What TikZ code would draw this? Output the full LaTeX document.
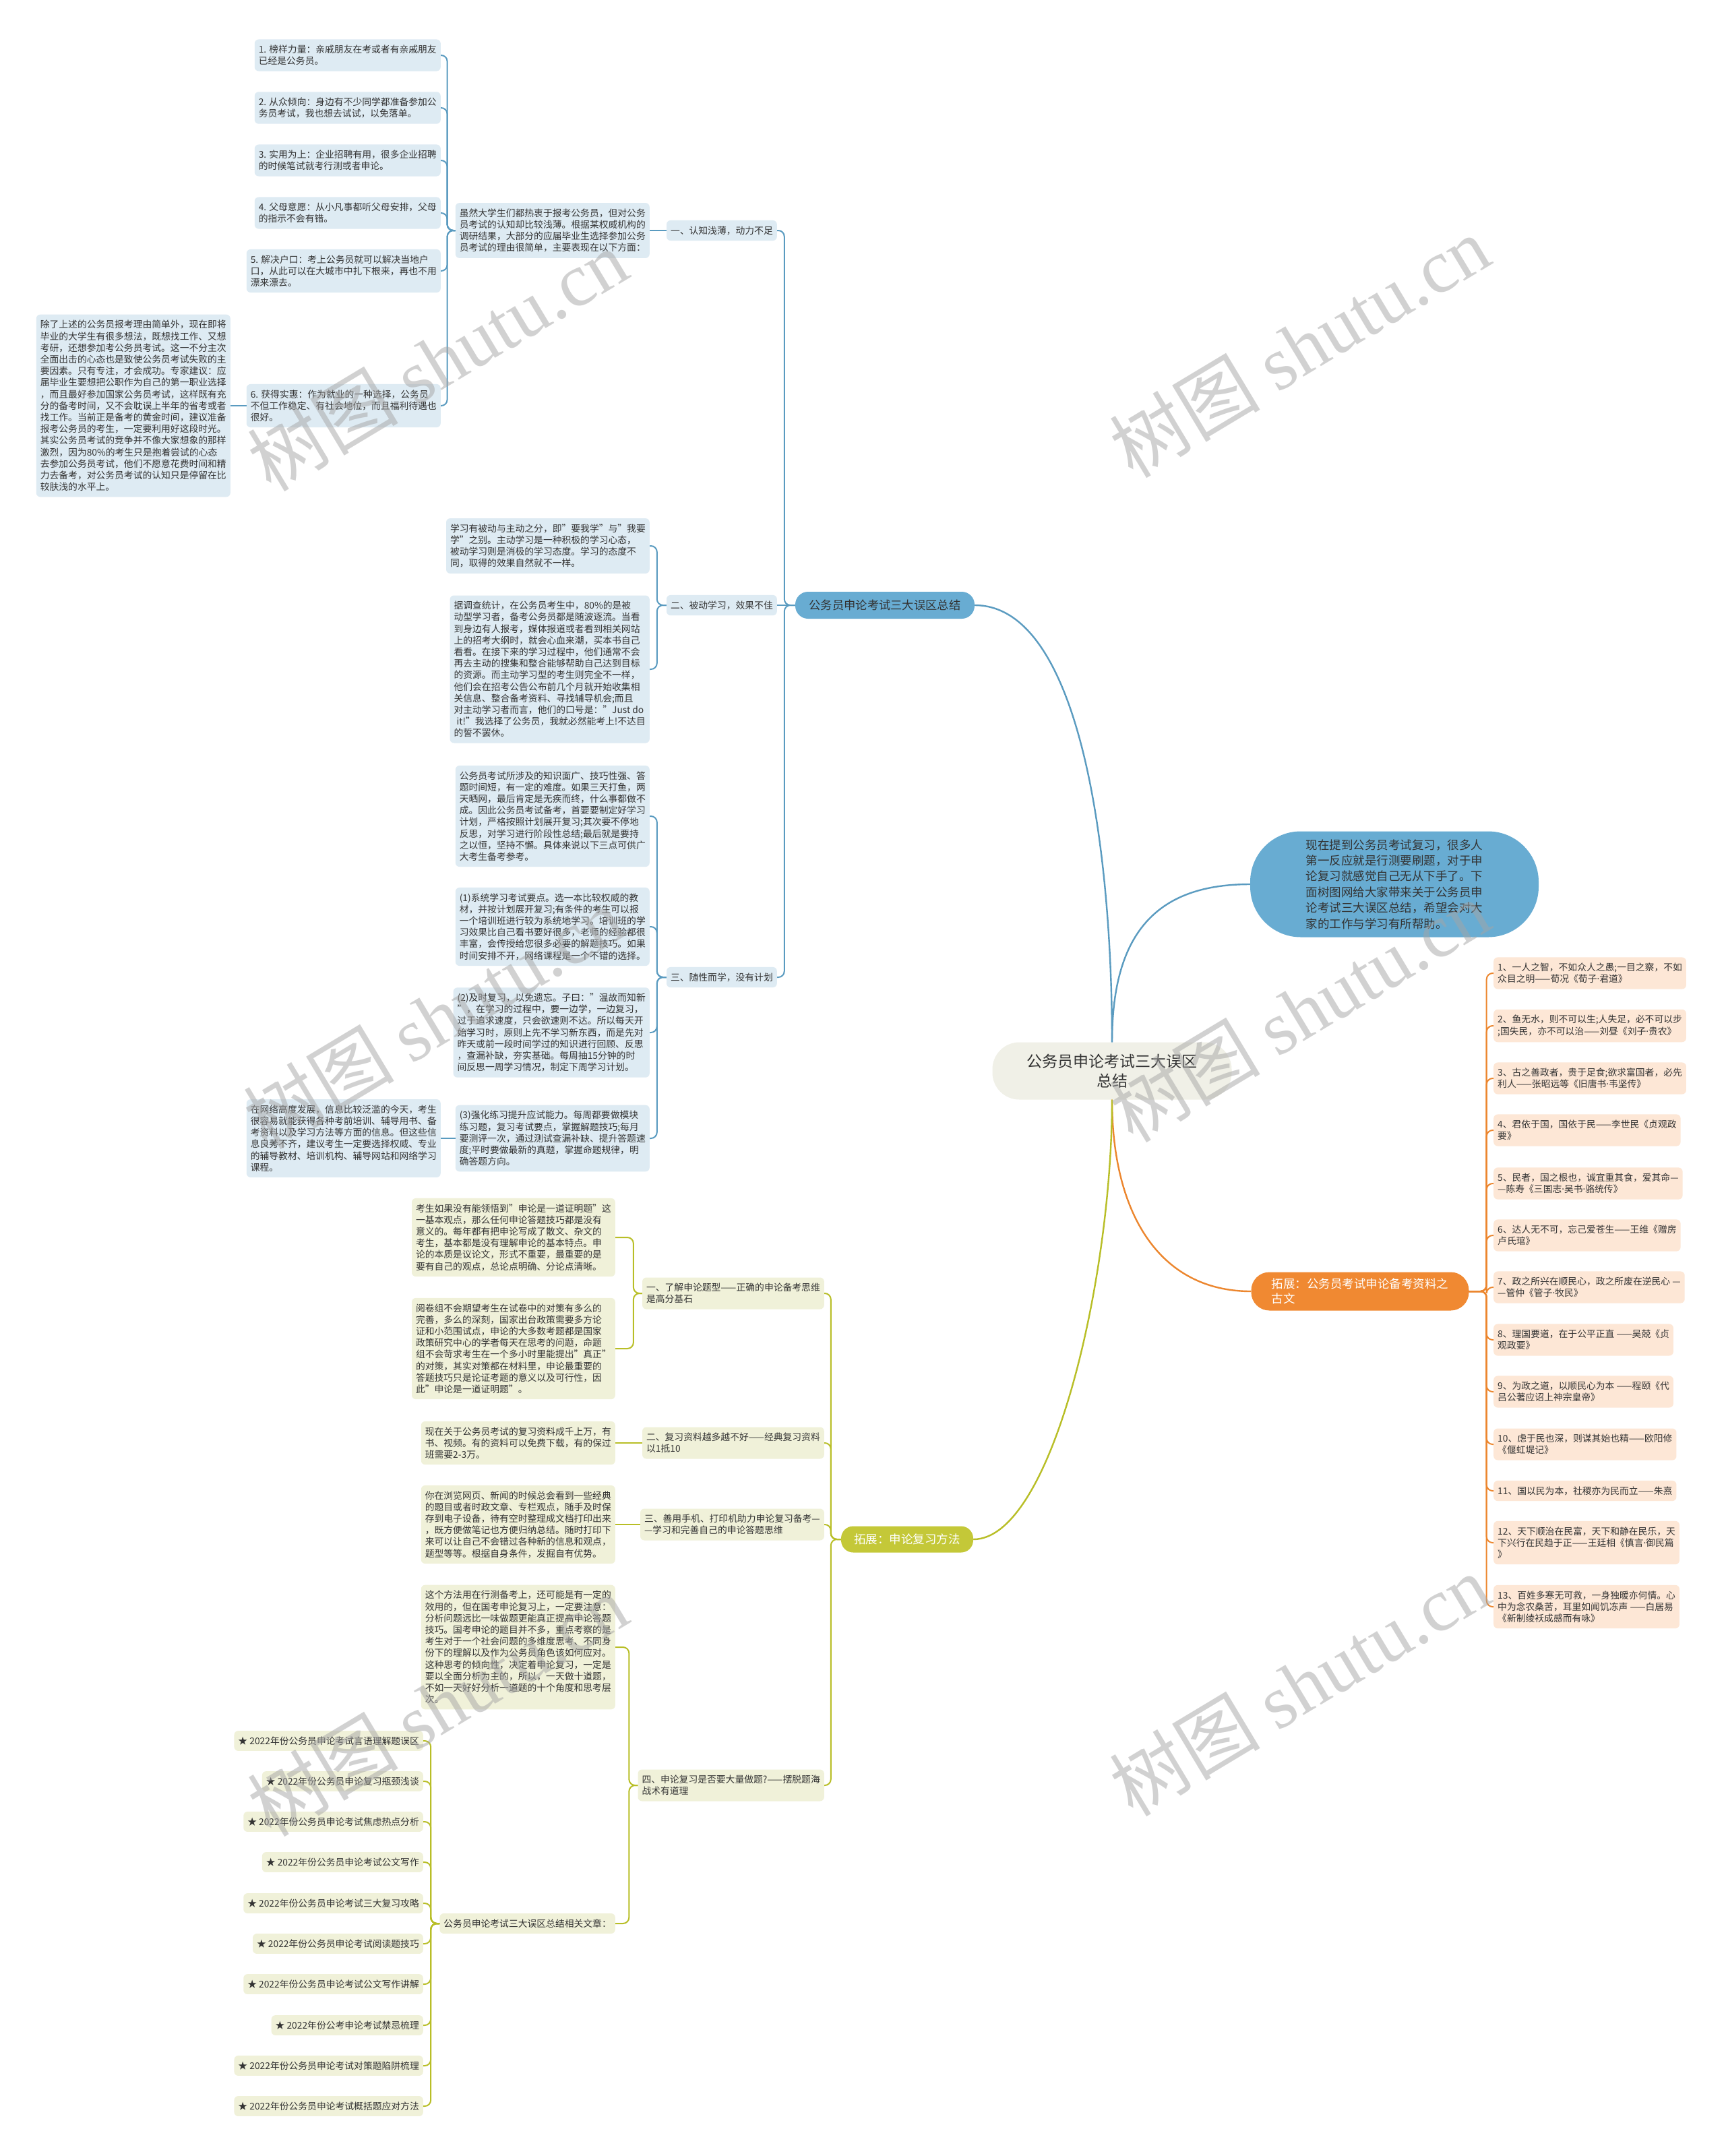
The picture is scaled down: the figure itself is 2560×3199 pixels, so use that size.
\documentclass[tikz,border=0pt]{standalone}
\usepackage{fontspec}
\setmainfont{Noto Sans CJK SC}
\newfontfamily\wmlatin{Liberation Serif}
\newfontfamily\latinf{Noto Sans}
\newcommand\ndot{{\latinf ·}}
\definecolor{txt}{RGB}{51,51,51}
\definecolor{blueline}{RGB}{90,155,192}
\definecolor{bluemain}{RGB}{104,172,210}
\definecolor{bluel}{RGB}{222,235,243}
\definecolor{orgline}{RGB}{236,134,46}
\definecolor{orgmain}{RGB}{240,137,50}
\definecolor{orgl}{RGB}{253,231,214}
\definecolor{olvline}{RGB}{184,190,38}
\definecolor{olvmain}{RGB}{196,200,56}
\definecolor{olvl}{RGB}{240,241,217}
\definecolor{ctr}{RGB}{240,240,231}
\definecolor{wm}{RGB}{165,165,165}
\tikzset{
  leaf/.style={rounded corners=6pt, align=left, font=\fontsize{13.8pt}{17.2pt}\selectfont, text=txt, inner xsep=6pt, inner ysep=8.5pt},
  bleaf/.style={leaf, fill=bluel},
  oleaf/.style={leaf, fill=orgl},
  gleaf/.style={leaf, fill=olvl},
  conn/.style={line width=2pt, rounded corners=9pt},
  bcon/.style={conn, draw=blueline},
  ocon/.style={conn, draw=orgline},
  gcon/.style={conn, draw=olvline},
  mainline/.style={line width=2.4pt},
  wmark/.style={rotate=31, text=wm, opacity=0.5, font=\fontsize{112pt}{112pt}\selectfont},
}
\begin{document}
\begin{tikzpicture}[x=1pt,y=-1pt]
\useasboundingbox[fill=white] (0,0) rectangle (2560,3199);

% ---------- centre ----------
\node[fill=ctr, rounded corners=40pt, minimum width=355pt, minimum height=85pt, align=center, font=\fontsize{23pt}{29pt}\selectfont, text=txt] (C) at (1650,1589) {公务员申论考试三大误区\\总结};

% ---------- blue branch ----------
\node[fill=bluemain, rounded corners=19pt, minimum width=266pt, minimum height=40pt, font=\fontsize{17.3pt}{20pt}\selectfont, text=txt] (B) at (1313,898) {公务员申论考试三大误区总结};

\node[bleaf, anchor=east] (B1) at (1153,342) {一、认知浅薄，动力不足};
\node[bleaf, anchor=east] (B2) at (1153,898) {二、被动学习，效果不佳};
\node[bleaf, anchor=east] (B3) at (1153,1450) {三、随性而学，没有计划};

\node[bleaf, anchor=east] (B1a) at (964,342) {虽然大学生们都热衷于报考公务员，但对公务\\员考试的认知却比较浅薄。根据某权威机构的\\调研结果，大部分的应届毕业生选择参加公务\\员考试的理由很简单，主要表现在以下方面：};

\node[bleaf, anchor=east] (L1) at (654,82) {1. 榜样力量：亲戚朋友在考或者有亲戚朋友\\已经是公务员。};
\node[bleaf, anchor=east] (L2) at (654,160) {2. 从众倾向：身边有不少同学都准备参加公\\务员考试，我也想去试试，以免落单。};
\node[bleaf, anchor=east] (L3) at (654,238) {3. 实用为上：企业招聘有用，很多企业招聘\\的时候笔试就考行测或者申论。};
\node[bleaf, anchor=east] (L4) at (654,316) {4. 父母意愿：从小凡事都听父母安排，父母\\的指示不会有错。};
\node[bleaf, anchor=east] (L5) at (654,402) {5. 解决户口：考上公务员就可以解决当地户\\口，从此可以在大城市中扎下根来，再也不用\\漂来漂去。};
\node[bleaf, anchor=east] (L6) at (654,602) {6. 获得实惠：作为就业的一种选择，公务员\\不但工作稳定、有社会地位，而且福利待遇也\\很好。};

\node[bleaf, anchor=east] (LL) at (342,602) {除了上述的公务员报考理由简单外，现在即将\\毕业的大学生有很多想法，既想找工作、又想\\考研，还想参加考公务员考试。这一不分主次\\全面出击的心态也是致使公务员考试失败的主\\要因素。只有专注，才会成功。专家建议：应\\届毕业生要想把公职作为自己的第一职业选择\\，而且最好参加国家公务员考试，这样既有充\\分的备考时间，又不会耽误上半年的省考或者\\找工作。当前正是备考的黄金时间，建议准备\\报考公务员的考生，一定要利用好这段时光。\\其实公务员考试的竞争并不像大家想象的那样\\激烈，因为80\%的考生只是抱着尝试的心态\\去参加公务员考试，他们不愿意花费时间和精\\力去备考，对公务员考试的认知只是停留在比\\较肤浅的水平上。};

\node[bleaf, anchor=east] (B2a) at (964,810) {学习有被动与主动之分，即"要我学"与"我要\\学"之别。主动学习是一种积极的学习心态，\\被动学习则是消极的学习态度。学习的态度不\\同，取得的效果自然就不一样。};
\node[bleaf, anchor=east] (B2b) at (964,993) {据调查统计，在公务员考生中，80\%的是被\\动型学习者，备考公务员都是随波逐流。当看\\到身边有人报考，媒体报道或者看到相关网站\\上的招考大纲时，就会心血来潮，买本书自己\\看看。在接下来的学习过程中，他们通常不会\\再去主动的搜集和整合能够帮助自己达到目标\\的资源。而主动学习型的考生则完全不一样，\\他们会在招考公告公布前几个月就开始收集相\\关信息、整合备考资料、寻找辅导机会;而且\\对主动学习者而言，他们的口号是："Just do\\\hspace{0.3em}it!"我选择了公务员，我就必然能考上!不达目\\的誓不罢休。};

\node[bleaf, anchor=east] (B3a) at (964,1211) {公务员考试所涉及的知识面广、技巧性强、答\\题时间短，有一定的难度。如果三天打鱼，两\\天晒网，最后肯定是无疾而终，什么事都做不\\成。因此公务员考试备考，首要要制定好学习\\计划，严格按照计划展开复习;其次要不停地\\反思，对学习进行阶段性总结;最后就是要持\\之以恒，坚持不懈。具体来说以下三点可供广\\大考生备考参考。};
\node[bleaf, anchor=east] (B3b) at (964,1375) {(1)系统学习考试要点。选一本比较权威的教\\材，并按计划展开复习;有条件的考生可以报\\一个培训班进行较为系统地学习。培训班的学\\习效果比自己看书要好很多，老师的经验都很\\丰富，会传授给您很多必要的解题技巧。如果\\时间安排不开，网络课程是一个不错的选择。};
\node[bleaf, anchor=east] (B3c) at (964,1532) {(2)及时复习，以免遗忘。子曰："温故而知新\\"，在学习的过程中，要一边学，一边复习，\\过于追求速度，只会欲速则不达。所以每天开\\始学习时，原则上先不学习新东西，而是先对\\昨天或前一段时间学过的知识进行回顾、反思\\，查漏补缺，夯实基础。每周抽15分钟的时\\间反思一周学习情况，制定下周学习计划。};
\node[bleaf, anchor=east] (B3d) at (964,1689) {(3)强化练习提升应试能力。每周都要做模块\\练习题，复习考试要点，掌握解题技巧;每月\\要测评一次，通过测试查漏补缺、提升答题速\\度;平时要做最新的真题，掌握命题规律，明\\确答题方向。};
\node[bleaf, anchor=east] (B3e) at (654,1689) {在网络高度发展，信息比较泛滥的今天，考生\\很容易就能获得各种考前培训、辅导用书、备\\考资料以及学习方法等方面的信息。但这些信\\息良莠不齐，建议考生一定要选择权威、专业\\的辅导教材、培训机构、辅导网站和网络学习\\课程。};

% ---------- intro ----------
\node[fill=bluemain, rounded corners=75pt, minimum width=428pt, minimum height=157pt, align=left, font=\fontsize{17.5pt}{23.4pt}\selectfont, text=txt] (I) at (2069,1312) {现在提到公务员考试复习，很多人\\第一反应就是行测要刷题，对于申\\论复习就感觉自己无从下手了。下\\面树图网给大家带来关于公务员申\\论考试三大误区总结，希望会对大\\家的工作与学习有所帮助。};

% ---------- orange branch ----------
\node[fill=orgmain, rounded corners=27pt, minimum width=323pt, minimum height=57pt, align=left, font=\fontsize{17.5pt}{22pt}\selectfont, text=white] (Or) at (2018,1916) {拓展：公务员考试申论备考资料之\\古文};

\node[oleaf, anchor=west] (oi1) at (2216,1444) {1、一人之智，不如众人之愚;一目之察，不如\\众目之明——荀况《荀子\ndot 君道》};
\node[oleaf, anchor=west] (oi2) at (2216,1522) {2、鱼无水，则不可以生;人失足，必不可以步\\;国失民，亦不可以治——刘昼《刘子\ndot 贵农》};
\node[oleaf, anchor=west] (oi3) at (2216,1600) {3、古之善政者，贵于足食;欲求富国者，必先\\利人——张昭远等《旧唐书\ndot 韦坚传》};
\node[oleaf, anchor=west] (oi4) at (2216,1677) {4、君依于国，国依于民——李世民《贞观政\\要》};
\node[oleaf, anchor=west] (oi5) at (2216,1756) {5、民者，国之根也，诚宜重其食，爱其命—\\—陈寿《三国志\ndot 吴书\ndot 骆统传》};
\node[oleaf, anchor=west] (oi6) at (2216,1833) {6、达人无不可，忘己爱苍生——王维《赠房\\卢氏琯》};
\node[oleaf, anchor=west] (oi7) at (2216,1910) {7、政之所兴在顺民心，政之所废在逆民心 —\\—管仲《管子\ndot 牧民》};
\node[oleaf, anchor=west] (oi8) at (2216,1988) {8、理国要道，在于公平正直 ——吴兢《贞\\观政要》};
\node[oleaf, anchor=west] (oi9) at (2216,2065) {9、为政之道，以顺民心为本 ——程颐《代\\吕公著应诏上神宗皇帝》};
\node[oleaf, anchor=west] (oi10) at (2216,2143) {10、虑于民也深，则谋其始也精——欧阳修\\《偃虹堤记》};
\node[oleaf, anchor=west] (oi11) at (2216,2212) {11、国以民为本，社稷亦为民而立——朱熹};
\node[oleaf, anchor=west] (oi12) at (2216,2289) {12、天下顺治在民富，天下和静在民乐，天\\下兴行在民趋于正——王廷相《慎言\ndot 御民篇\\》};
\node[oleaf, anchor=west] (oi13) at (2216,2384) {13、百姓多寒无可救，一身独暖亦何情。心\\中为念农桑苦，耳里如闻饥冻声 ——白居易\\《新制绫袄成感而有咏》};

% ---------- olive branch ----------
\node[fill=olvmain, rounded corners=18pt, minimum width=196pt, minimum height=39pt, font=\fontsize{17.5pt}{20pt}\selectfont, text=white] (O) at (1346,2284) {拓展：申论复习方法};

\node[gleaf, anchor=east] (O1) at (1223,1919) {一、了解申论题型——正确的申论备考思维\\是高分基石};
\node[gleaf, anchor=east] (O2) at (1223,2141) {二、复习资料越多越不好——经典复习资料\\以1抵10};
\node[gleaf, anchor=east] (O3) at (1223,2262) {三、善用手机、打印机助力申论复习备考—\\—学习和完善自己的申论答题思维};
\node[gleaf, anchor=east] (O4) at (1223,2649) {四、申论复习是否要大量做题?——摆脱题海\\战术有道理};

\node[gleaf, anchor=east] (O1a) at (913,1836) {考生如果没有能领悟到"申论是一道证明题"这\\一基本观点，那么任何申论答题技巧都是没有\\意义的。每年都有把申论写成了散文、杂文的\\考生，基本都是没有理解申论的基本特点。申\\论的本质是议论文，形式不重要，最重要的是\\要有自己的观点，总论点明确、分论点清晰。};
\node[gleaf, anchor=east] (O1b) at (913,2001) {阅卷组不会期望考生在试卷中的对策有多么的\\完善，多么的深刻，国家出台政策需要多方论\\证和小范围试点，申论的大多数考题都是国家\\政策研究中心的学者每天在思考的问题，命题\\组不会苛求考生在一个多小时里能提出"真正"\\的对策，其实对策都在材料里，申论最重要的\\答题技巧只是论证考题的意义以及可行性，因\\此"申论是一道证明题"。};
\node[gleaf, anchor=east] (O2a) at (913,2141) {现在关于公务员考试的复习资料成千上万，有\\书、视频。有的资料可以免费下载，有的保过\\班需要2-3万。};
\node[gleaf, anchor=east] (O3a) at (913,2262) {你在浏览网页、新闻的时候总会看到一些经典\\的题目或者时政文章、专栏观点，随手及时保\\存到电子设备，待有空时整理成文档打印出来\\，既方便做笔记也方便归纳总结。随时打印下\\来可以让自己不会错过各种新的信息和观点，\\题型等等。根据自身条件，发掘自有优势。};
\node[gleaf, anchor=east] (O4a) at (913,2444) {这个方法用在行测备考上，还可能是有一定的\\效用的，但在国考申论复习上，一定要注意：\\分析问题远比一味做题更能真正提高申论答题\\技巧。国考申论的题目并不多，重点考察的是\\考生对于一个社会问题的多维度思考、不同身\\份下的理解以及作为公务员角色该如何应对。\\这种思考的倾向性，决定着申论复习，一定是\\要以全面分析为主的，所以，一天做十道题，\\不如一天好好分析一道题的十个角度和思考层\\次。};
\node[gleaf, anchor=east] (O4b) at (913,2854) {公务员申论考试三大误区总结相关文章：};

\node[gleaf, anchor=east] (li1) at (628,2583) {★ 2022年份公务员申论考试言语理解题误区};
\node[gleaf, anchor=east] (li2) at (628,2643) {★ 2022年份公务员申论复习瓶颈浅谈};
\node[gleaf, anchor=east] (li3) at (628,2703) {★ 2022年份公务员申论考试焦虑热点分析};
\node[gleaf, anchor=east] (li4) at (628,2763) {★ 2022年份公务员申论考试公文写作};
\node[gleaf, anchor=east] (li5) at (628,2824) {★ 2022年份公务员申论考试三大复习攻略};
\node[gleaf, anchor=east] (li6) at (628,2884) {★ 2022年份公务员申论考试阅读题技巧};
\node[gleaf, anchor=east] (li7) at (628,2944) {★ 2022年份公务员申论考试公文写作讲解};
\node[gleaf, anchor=east] (li8) at (628,3005) {★ 2022年份公考申论考试禁忌梳理};
\node[gleaf, anchor=east] (li9) at (628,3065) {★ 2022年份公务员申论考试对策题陷阱梳理};
\node[gleaf, anchor=east] (li10) at (628,3125) {★ 2022年份公务员申论考试概括题应对方法};

% ---------- main curves ----------
\draw[mainline, blueline] (B.east) .. controls (1600,898) and (1650,1250) .. (C.north);
\draw[mainline, blueline] (C.north) .. controls (1650,1380) and (1720,1312) .. (I.west);
\draw[mainline, orgline] (C.south) .. controls (1650,1800) and (1720,1916) .. (Or.west);
\draw[mainline, olvline] (C.south) .. controls (1650,1900) and (1560,2284) .. (O.east);

% ---------- blue connectors ----------
\draw[bcon] (B.west) -- ++(-16,0) |- (B1.east);
\draw[bcon] (B.west) -- (B2.east);
\draw[bcon] (B.west) -- ++(-16,0) |- (B3.east);
\draw[bcon] (B1.west) -- (B1a.east);
\foreach \n in {L1,L2,L3,L4,L5,L6} \draw[bcon] (B1a.west) -- ++(-12,0) |- (\n.east);
\draw[bcon] (L6.west) -- (LL.east);
\foreach \n in {B2a,B2b} \draw[bcon] (B2.west) -- ++(-14,0) |- (\n.east);
\foreach \n in {B3a,B3b,B3c,B3d} \draw[bcon] (B3.west) -- ++(-14,0) |- (\n.east);
\draw[bcon] (B3d.west) -- (B3e.east);

% ---------- orange connectors ----------
\foreach \i in {1,...,13} \draw[ocon] (Or.east) -- ++(26,0) |- (oi\i.west);

% ---------- olive connectors ----------
\foreach \n in {O1,O2,O3,O4} \draw[gcon] (O.west) -- ++(-15,0) |- (\n.east);
\foreach \n in {O1a,O1b} \draw[gcon] (O1.west) -- ++(-13,0) |- (\n.east);
\draw[gcon] (O2.west) -- (O2a.east);
\draw[gcon] (O3.west) -- (O3a.east);
\foreach \n in {O4a,O4b} \draw[gcon] (O4.west) -- ++(-13,0) |- (\n.east);
\foreach \i in {1,...,10} \draw[gcon] (O4b.west) -- ++(-13,0) |- (li\i.east);

% ---------- watermarks ----------
\node[wmark] (w1) at (649,534) {树图 {\wmlatin shutu.cn}};
\node[wmark] (w2) at (1928,514) {树图 {\wmlatin shutu.cn}};
\node[wmark] (w3) at (643,1510) {树图 {\wmlatin shutu.cn}};
\node[wmark] (w4) at (1928,1500) {树图 {\wmlatin shutu.cn}};
\node[wmark] (w5) at (649,2530) {树图 {\wmlatin shutu.cn}};
\node[wmark] (w6) at (1928,2500) {树图 {\wmlatin shutu.cn}};
\end{tikzpicture}
\end{document}
